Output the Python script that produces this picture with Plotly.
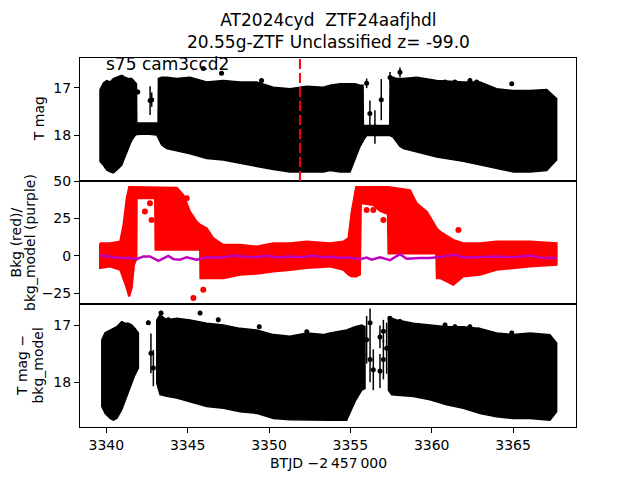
import plotly.graph_objects as go
from plotly.subplots import make_subplots

# ---------------- data ----------------
# Top panel (T mag): envelope of the dense error-bar cloud
top_t = [3339.61, 3339.82, 3340.02, 3340.23, 3340.43, 3340.64, 3340.94, 3341.15, 3341.35, 3341.56,
         3341.76, 3341.85, 3341.87, 3342.48, 3343.10, 3343.18, 3343.20, 3343.40, 3343.71, 3344.32,
         3345.14, 3346.17, 3347.19, 3348.22, 3349.24, 3350.27, 3351.29, 3352.32, 3353.34, 3353.75,
         3354.36, 3354.98, 3355.29, 3355.59, 3355.78, 3355.80, 3356.00, 3356.41, 3357.23, 3357.42,
         3357.44, 3357.64, 3357.85, 3358.05, 3358.26, 3359.08, 3360.31, 3361.94, 3362.97, 3363.99,
         3365.02, 3366.04, 3367.07, 3367.68]
top_upper = [17.04, 16.90, 16.85, 16.88, 16.81, 16.78, 16.74, 16.78, 16.81, 16.81,
             16.88, 16.92, 17.74, 17.74, 17.74, 17.74, 16.81, 16.78, 16.78, 16.81,
             16.78, 16.88, 16.85, 16.88, 16.88, 16.99, 17.02, 16.97, 16.99, 16.95,
             16.92, 16.92, 16.92, 16.95, 16.95, 17.79, 17.79, 17.79, 17.79, 17.79,
             16.78, 16.78, 16.81, 16.81, 16.81, 16.78, 16.85, 16.88, 16.88, 17.02,
             17.06, 17.06, 17.04, 17.23]
top_lower = [18.54, 18.62, 18.72, 18.76, 18.78, 18.72, 18.62, 18.45, 18.27, 18.10,
             18.00, 17.98, 17.97, 17.97, 17.99, 18.03, 18.04, 18.20, 18.27, 18.31,
             18.38, 18.48, 18.51, 18.58, 18.65, 18.71, 18.76, 18.76, 18.76, 18.73,
             18.76, 18.76, 18.51, 18.23, 18.12, 18.10, 18.00, 17.99, 17.99, 18.00,
             18.00, 18.04, 18.14, 18.23, 18.27, 18.34, 18.45, 18.54, 18.62, 18.69,
             18.76, 18.76, 18.73, 18.51]
# isolated top points (time, mag, error)
top_pts_t = [3341.93, 3342.69, 3342.79, 3345.96, 3347.08, 3349.54, 3356.00, 3356.20, 3356.51,
             3356.90, 3357.44, 3358.05, 3360.82, 3361.43, 3362.35, 3362.76, 3364.92]
top_pts_m = [17.09, 17.27, 17.25, 16.60, 16.70, 16.85, 16.91, 17.54, 17.82,
             17.25, 16.79, 16.68, 16.88, 16.88, 16.85, 16.88, 16.92]
top_pts_e = [0.05, 0.30, 0.15, 0.04, 0.04, 0.04, 0.10, 0.27, 0.35,
             0.43, 0.12, 0.10, 0.04, 0.04, 0.04, 0.04, 0.04]
trigger_time = 3351.9

# Middle panel: background (red) envelope and background model (purple)
bkg_t = [3339.61, 3340.23, 3340.85, 3341.05, 3341.25, 3341.40, 3341.56, 3341.70, 3341.85, 3341.87,
         3342.99, 3343.02, 3344.33, 3344.74, 3345.14, 3345.55, 3345.76, 3345.78, 3346.17, 3346.58,
         3346.88, 3347.19, 3348.22, 3349.24, 3350.27, 3351.29, 3352.32, 3353.34, 3353.75, 3354.57,
         3354.88, 3355.08, 3355.35, 3355.59, 3355.65, 3356.41, 3356.82, 3357.30, 3357.34, 3358.67,
         3359.08, 3359.70, 3360.10, 3360.28, 3360.31, 3360.51, 3361.33, 3361.94, 3362.97, 3363.99,
         3366.04, 3367.68]
bkg_upper = [8.5, 8.5, 9.6, 20.7, 38.5, 46.0, 46.0, 46.0, 46.0, 46.0,
             46.0, 46.0, 45.5, 40.7, 29.6, 22.9, 20.7, 20.7, 18.5, 11.8,
             9.6, 7.4, 7.4, 6.2, 8.5, 8.5, 9.6, 9.0, 8.5, 9.6,
             11.8, 29.6, 46.0, 46.0, 46.0, 46.0, 46.0, 46.0, 46.0, 44.0,
             35.1, 29.6, 22.9, 19.0, 18.5, 16.2, 10.7, 8.5, 8.5, 9.6,
             9.6, 8.5]
bkg_lower = [-8.2, -7.1, -9.3, -14.9, -21.5, -27.1, -21.5, -6.0, -2.0, 38.5,
             38.5, 4.0, 4.0, 4.0, 4.0, 4.0, 4.0, -14.9, -14.9, -14.9,
             -14.9, -14.9, -12.6, -12.0, -10.4, -9.5, -8.2, -7.5, -7.1, -9.3,
             -12.6, -13.8, -13.8, -12.6, 35.1, 34.0, 30.0, 28.0, 1.5, 1.5,
             1.5, 1.5, 1.5, 1.5, -14.9, -14.9, -19.3, -13.8, -12.6, -9.3,
             -7.1, -6.0]
bkg_pts_t = [3341.53, 3342.37, 3342.78, 3342.68, 3344.94, 3345.35, 3345.96,
             3356.00, 3356.41, 3357.03, 3361.64]
bkg_pts_v = [10.7, 29.6, 24.0, 35.1, 38.5, -28.2, -22.7,
             30.7, 30.7, 24.0, 17.3]
model_t = [3339.61, 3340.23, 3340.84, 3341.46, 3341.87, 3342.27, 3342.68, 3343.20, 3343.81, 3344.12,
           3344.53, 3344.94, 3345.55, 3346.17, 3347.19, 3347.81, 3348.42, 3349.24, 3349.86, 3350.47,
           3351.29, 3352.11, 3352.73, 3353.34, 3353.75, 3354.37, 3354.98, 3355.59, 3356.00, 3356.31,
           3356.82, 3357.44, 3358.05, 3358.46, 3359.28, 3359.90, 3360.51, 3361.43, 3361.94, 3362.97,
           3363.99, 3365.02, 3366.04, 3366.86, 3367.68]
model_v = [0.2, -0.4, -1.5, -1.5, -2.2, -0.4, -0.4, -3.3, 0.0, -2.2,
           -2.6, -0.9, -2.6, -0.9, -1.1, 0.2, -0.4, -0.9, 0.0, -1.1,
           -0.4, -0.9, 0.2, -1.1, -0.4, -1.5, -1.1, -2.2, -1.1, -2.6,
           -0.9, -2.9, 1.1, -2.0, -1.5, -1.5, -0.7, 0.7, -1.1, -0.9,
           -0.4, -0.9, 0.2, -1.5, -1.5]

# Bottom panel (T mag - bkg_model): three dense segments
bot_t1 = [3339.72, 3339.92, 3340.23, 3340.43, 3340.64, 3340.94, 3341.15, 3341.35, 3341.56, 3341.76, 3341.97]
bot_up1 = [17.25, 17.13, 17.08, 17.05, 17.02, 16.93, 16.96, 16.96, 16.99, 17.05, 17.13]
bot_lo1 = [18.43, 18.55, 18.64, 18.67, 18.64, 18.49, 18.34, 18.17, 18.02, 17.87, 17.75]
bot_t2 = [3343.10, 3343.30, 3343.71, 3344.32, 3345.14, 3346.17, 3347.19, 3348.22, 3349.24, 3350.27,
          3351.29, 3352.32, 3353.34, 3353.75, 3354.77, 3354.98, 3355.29, 3355.70, 3355.90]
bot_up2 = [16.90, 16.81, 16.90, 16.87, 16.90, 16.96, 16.99, 17.05, 17.08, 17.16,
           17.19, 17.13, 17.16, 17.13, 17.08, 17.05, 17.02, 16.99, 17.02]
bot_lo2 = [18.02, 18.22, 18.25, 18.28, 18.34, 18.43, 18.46, 18.52, 18.55, 18.64,
           18.66, 18.67, 18.67, 18.67, 18.67, 18.55, 18.34, 18.14, 18.11]
bot_t3 = [3357.34, 3357.54, 3357.85, 3358.87, 3359.90, 3360.92, 3361.94, 3362.97, 3363.99, 3365.02,
          3366.04, 3367.27, 3367.68]
bot_up3 = [16.84, 16.87, 16.90, 16.96, 16.99, 17.02, 17.02, 17.05, 17.13, 17.16,
           17.13, 17.16, 17.31]
bot_lo3 = [18.14, 18.22, 18.22, 18.25, 18.31, 18.40, 18.46, 18.55, 18.61, 18.64,
           18.64, 18.67, 18.52]
bot_pts_t = [3342.58, 3342.74, 3342.89, 3343.36, 3343.81, 3345.76, 3346.88, 3349.40, 3352.32,
             3356.00, 3356.21, 3356.21, 3356.41, 3356.82, 3356.82, 3357.03, 3357.03, 3357.23,
             3357.44, 3358.05, 3360.82, 3361.43, 3362.35, 3362.87, 3364.92]
bot_pts_m = [16.95, 17.49, 17.75, 16.78, 16.90, 16.78, 16.90, 17.02, 17.11,
             17.25, 16.95, 17.60, 17.78, 17.20, 17.80, 17.10, 17.60, 17.40,
             16.87, 16.93, 16.99, 17.02, 17.02, 17.08, 17.13]
bot_pts_e = [0.04, 0.35, 0.32, 0.04, 0.04, 0.04, 0.04, 0.04, 0.04,
             0.42, 0.25, 0.40, 0.36, 0.20, 0.30, 0.20, 0.35, 0.45,
             0.04, 0.04, 0.04, 0.04, 0.04, 0.04, 0.04]

x_ticks = [3340, 3345, 3350, 3355, 3360, 3365]
top_ticks = [17, 18]
mid_ticks = [50, 25, 0, -25]
bot_ticks = [17, 18]


def band(segments):
    xs, ys = [], []
    for t, up, lo in segments:
        xs += list(t) + list(t[::-1]) + [t[0], None]
        ys += list(up) + list(lo[::-1]) + [up[0], None]
    return xs, ys


FONT = "DejaVu Sans"
fig = make_subplots(rows=3, cols=1, shared_xaxes=True, vertical_spacing=0)

# top panel
x, y = band([(top_t, top_upper, top_lower)])
fig.add_trace(go.Scatter(x=x, y=y, mode="lines", fill="toself", fillcolor="black",
                         line=dict(color="black", width=1.5), hoverinfo="skip"), row=1, col=1)
fig.add_trace(go.Scatter(x=top_pts_t, y=top_pts_m, mode="markers",
                         marker=dict(color="black", size=5),
                         error_y=dict(type="data", array=top_pts_e, color="black", thickness=1.5, width=0)),
              row=1, col=1)

# middle panel
x, y = band([(bkg_t, bkg_upper, bkg_lower)])
fig.add_trace(go.Scatter(x=x, y=y, mode="lines", fill="toself", fillcolor="#ff0000",
                         line=dict(color="#ff0000", width=2), hoverinfo="skip"), row=2, col=1)
fig.add_trace(go.Scatter(x=bkg_pts_t, y=bkg_pts_v, mode="markers",
                         marker=dict(color="#ff0000", size=6)), row=2, col=1)
fig.add_trace(go.Scatter(x=model_t, y=model_v, mode="lines",
                         line=dict(color="#bf00bf", width=2.5)), row=2, col=1)

# bottom panel
x, y = band([(bot_t1, bot_up1, bot_lo1), (bot_t2, bot_up2, bot_lo2), (bot_t3, bot_up3, bot_lo3)])
fig.add_trace(go.Scatter(x=x, y=y, mode="lines", fill="toself", fillcolor="black",
                         line=dict(color="black", width=1.5), hoverinfo="skip"), row=3, col=1)
fig.add_trace(go.Scatter(x=bot_pts_t, y=bot_pts_m, mode="markers",
                         marker=dict(color="black", size=5),
                         error_y=dict(type="data", array=bot_pts_e, color="black", thickness=1.5, width=0)),
              row=3, col=1)

# trigger line in top panel
fig.add_shape(type="line", x0=trigger_time, x1=trigger_time, y0=0, y1=1,
              xref="x", yref="y domain", line=dict(color="#ff0000", width=2, dash="10px,4px"))

axis_common = dict(showline=True, linecolor="black", linewidth=1, mirror=True,
                   showgrid=False, zeroline=False, ticks="outside", ticklen=5, tickwidth=1,
                   tickcolor="black", tickfont=dict(family=FONT, size=14, color="black"))
xr = [3338.38, 3368.87]
fig.update_xaxes(range=xr, **axis_common)
fig.update_xaxes(ticks="", showticklabels=False, row=1, col=1)
fig.update_xaxes(ticks="", showticklabels=False, row=2, col=1)
fig.update_xaxes(tickvals=x_ticks, ticktext=[str(v) for v in x_ticks], row=3, col=1)
fig.update_yaxes(**axis_common)
fig.update_yaxes(range=[18.95, 16.38], tickvals=top_ticks, ticktext=[str(v) for v in top_ticks], row=1, col=1)
fig.update_yaxes(range=[-32.2, 50.05], tickvals=mid_ticks,
                 ticktext=[str(v).replace("-", "\u2212") for v in mid_ticks], row=2, col=1)
fig.update_yaxes(range=[18.79, 16.62], tickvals=bot_ticks, ticktext=[str(v) for v in bot_ticks], row=3, col=1)

# page body adds an 8px offset: the figure is sized so it fills the 640x480 window
FIG_W, FIG_H = 632, 472
M_L, M_R, M_T, M_B = 72, 64, 50, 53
H_PLOT = FIG_H - M_T - M_B
W_PLOT = FIG_W - M_L - M_R
OFF = 8


def py(p):  # page pixel row -> paper y
    return (FIG_H - M_B - (p - OFF)) / H_PLOT


def px(p):  # page pixel column -> paper x
    return ((p - OFF) - M_L) / W_PLOT


ann = [
    dict(text="AT2024cyd\u00a0 ZTF24aafjhdl<br>20.55g-ZTF Unclassified z= -99.0",
         x=0.5, y=py(31), xanchor="center", yanchor="middle", font=dict(size=17)),
    dict(text="s75 cam3ccd2", x=px(104), y=py(64), xanchor="left", yanchor="middle", font=dict(size=17)),
    dict(text="T mag", x=px(39), y=py(119.2), textangle=-90, xanchor="center", yanchor="middle",
         font=dict(size=14)),
    dict(text="Bkg (red)/", x=px(16), y=py(242.4), textangle=-90,
         xanchor="center", yanchor="middle", font=dict(size=14)),
    dict(text="bkg_model (purple)", x=px(30.5), y=py(242.4), textangle=-90,
         xanchor="center", yanchor="middle", font=dict(size=14)),
    dict(text="T mag \u2212", x=px(21.5), y=py(365.6), textangle=-90,
         xanchor="center", yanchor="middle", font=dict(size=14)),
    dict(text="bkg_model", x=px(38), y=py(365.6), textangle=-90,
         xanchor="center", yanchor="middle", font=dict(size=14)),
    dict(text="BTJD \u22122\u2009457\u2009000", x=0.5, y=py(463), xanchor="center", yanchor="middle",
         font=dict(size=14)),
]
for a in ann:
    a.update(xref="paper", yref="paper", showarrow=False)
    a["font"].update(family=FONT, color="black")
    fig.add_annotation(**a)

fig.update_layout(width=FIG_W, height=FIG_H, showlegend=False,
                  margin=dict(l=M_L, r=M_R, t=M_T, b=M_B),
                  plot_bgcolor="white", paper_bgcolor="white",
                  font=dict(family=FONT, color="black"))
fig.write_html("out.html")
